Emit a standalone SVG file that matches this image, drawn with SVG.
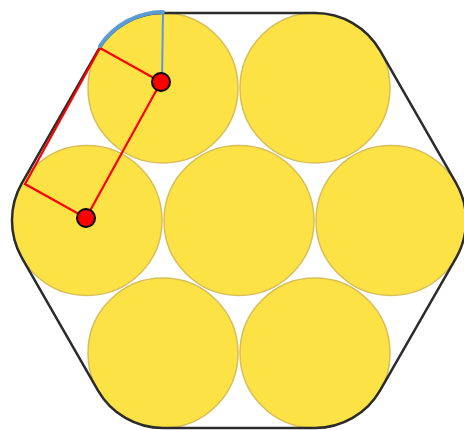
<svg xmlns="http://www.w3.org/2000/svg" width="464" height="430" viewBox="0 0 464 430">
<style>
.wire{fill:#fde245;stroke:#d8be55;stroke-width:1.5}
.hull{fill:none;stroke:#2b2b2b;stroke-width:2.5;stroke-linejoin:round}
.red{fill:none;stroke:#ff0000;stroke-width:2.2}
.dot{fill:#ff0000;stroke:#000000;stroke-width:2}
.blue{fill:none;stroke:#5b9bd5}
</style>
<rect width="464" height="430" fill="#ffffff"/>
<g id="wires">
<g id="wire-top-left"><circle class="wire" cx="163" cy="88" r="75"/></g>
<g id="wire-top-right"><circle class="wire" cx="315" cy="88" r="75"/></g>
<g id="wire-mid-left"><circle class="wire" cx="87" cy="220.5" r="75"/></g>
<g id="wire-center"><circle class="wire" cx="239" cy="220.5" r="75"/></g>
<g id="wire-mid-right"><circle class="wire" cx="391" cy="220.5" r="75"/></g>
<g id="wire-bottom-left"><circle class="wire" cx="163" cy="353" r="75"/></g>
<g id="wire-bottom-right"><circle class="wire" cx="315" cy="353" r="75"/></g>
</g>
<g id="sheath">
<path class="hull" d="M163,13 L315,13 A75,75 0 0 1 380.1,50.7 L456.1,183.2 A75,75 0 0 1 456.1,257.8 L380.1,390.3 A75,75 0 0 1 315,428 L163,428 A75,75 0 0 1 97.9,390.3 L21.9,257.8 A75,75 0 0 1 21.9,183.2 L97.9,50.7 A75,75 0 0 1 163,13 Z"/>
</g>
<g id="connectors">
<path class="red" d="M161,82 L100,48 L25,184 L86,218 Z"/>
<path class="blue" stroke-width="2" d="M163,12 L162,80"/>
<path class="blue" stroke-width="4" stroke-linecap="round" d="M163,12 A76,76 0 0 0 100,46"/>
</g>
<g id="centre-1"><circle class="dot" cx="161" cy="82" r="9"/></g>
<g id="centre-2"><circle class="dot" cx="86" cy="218" r="9"/></g>
</svg>
